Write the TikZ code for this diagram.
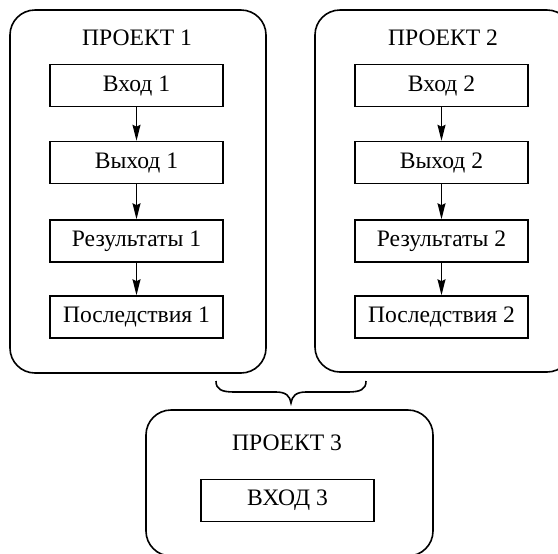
\documentclass[tikz,border=0pt]{standalone}
\usepackage{fontspec}
\setmainfont{Liberation Serif}
\usetikzlibrary{arrows.meta}
\begin{document}
\begin{tikzpicture}[x=0.5pt,y=-0.5pt,
  proj/.style={draw,line width=0.8pt,rounded corners=12.5pt,minimum width=#1,inner sep=0pt},
  item/.style={draw,line width=0.75pt,minimum width=86.5pt,minimum height=21pt,inner sep=0pt,font=\fontsize{11.8}{13}\selectfont},
  ttl/.style={anchor=base,font=\fontsize{11.8}{13}\selectfont,inner sep=0pt},
  arr/.style={line width=0.7pt,-{Stealth[length=8pt,width=4pt,inset=1pt]}}]
\useasboundingbox (0,0) rectangle (558,553);
% project frames
\node[proj=128pt,minimum height=181.5pt] (p1) at (138,191.5) {};
\node[proj=128.5pt,minimum height=181pt] (p2) at (443.5,191) {};
\node[proj=143.5pt,minimum height=73pt] (p3) at (289.5,483) {};
% titles
\node[ttl] (t1) at (137,45) {ПРОЕКТ 1};
\node[ttl] (t2) at (443,45) {ПРОЕКТ 2};
\node[ttl] (t3) at (287,450) {ПРОЕКТ 3};
% project 1 items
\node[item] (a1) at (136.5,85.5) {Вход 1};
\node[item] (b1) at (136.5,162.5) {Выход 1};
\node[item] (c1) at (136.5,241) {Результаты 1};
\node[item] (d1) at (136.5,317) {Последствия 1};
% project 2 items
\node[item] (a2) at (441.5,85.5) {Вход 2};
\node[item] (b2) at (441.5,162.5) {Выход 2};
\node[item] (c2) at (441.5,241) {Результаты 2};
\node[item] (d2) at (441.5,317) {Последствия 2};
% project 3 item
\node[item] (e3) at (287.5,500.5) {ВХОД 3};
% arrows
\draw[arr] (a1) -- (b1);
\draw[arr] (b1) -- (c1);
\draw[arr] (c1) -- (d1);
\draw[arr] (a2) -- (b2);
\draw[arr] (b2) -- (c2);
\draw[arr] (c2) -- (d2);
% brace
\coordinate (bl) at (216,381);
\coordinate (br) at (366,381);
\coordinate (bt) at (291,403);
\draw[line width=0.8pt] (bl) .. controls (216,389) and (221,392) .. (234,392)
  -- (276,392) .. controls (286,392) and (290,396) .. (bt)
  .. controls (292,396) and (296,392) .. (306,392)
  -- (348,392) .. controls (361,392) and (366,389) .. (br);
\end{tikzpicture}
\end{document}
